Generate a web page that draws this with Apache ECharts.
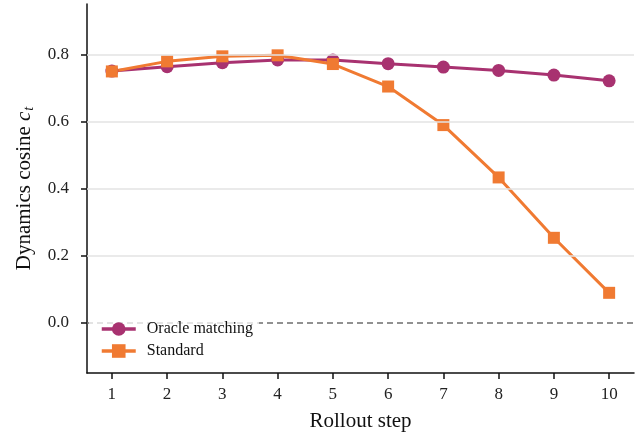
<!DOCTYPE html>
<html>
<head>
<meta charset="utf-8">
<script src="https://cdn.jsdelivr.net/npm/echarts@6/dist/echarts.min.js"></script>
<style>
html,body{margin:0;padding:0;background:#fff;}
#chart{width:635px;height:437px;}
</style>
</head>
<body>
<div id="chart"></div>
<script>
const steps = [1, 2, 3, 4, 5, 6, 7, 8, 9, 10];
const oracle = [0.750, 0.763, 0.775, 0.783, 0.783, 0.772, 0.762, 0.752, 0.738, 0.721];
const standard = [0.749, 0.779, 0.794, 0.797, 0.771, 0.704, 0.589, 0.433, 0.253, 0.089];
const yTicks = [0.0, 0.2, 0.4, 0.6, 0.8];
const gridValues = [0.2, 0.4, 0.6, 0.8];

const FONT = 'Liberation Serif';
const purple = '#a83270';
const orange = '#f07a32';

const chart = echarts.init(document.getElementById('chart'));
chart.setOption({
  animation: false,
  backgroundColor: '#fff',
  textStyle: { fontFamily: FONT, color: '#111' },
  grid: { left: 87, right: 1, top: 4, bottom: 64 },
  xAxis: {
    type: 'value', min: 0.55, max: 10.45,
    name: 'Rollout step', nameLocation: 'middle', nameGap: 38,
    nameTextStyle: { fontFamily: FONT, fontSize: 21, color: '#111' },
    axisLine: { show: true, onZero: false, lineStyle: { color: '#111', width: 1.5 } },
    axisTick: { show: true, length: 6, customValues: steps, lineStyle: { color: '#111', width: 1.5 } },
    axisLabel: { customValues: steps, margin: 13, fontFamily: FONT, fontSize: 17, color: '#222' },
    splitLine: { show: false }
  },
  yAxis: {
    type: 'value', min: -0.15, max: 0.95,
    name: 'Dynamics cosine {i|c}{s|t}', nameLocation: 'middle', nameGap: 51,
    nameTextStyle: {
      fontFamily: FONT, fontSize: 21, color: '#111',
      rich: {
        i: { fontFamily: FONT, fontSize: 21, fontStyle: 'italic', color: '#111' },
        s: { fontFamily: FONT, fontSize: 14, fontStyle: 'italic', color: '#111', verticalAlign: 'bottom', padding: [9, 0, 0, 1] }
      }
    },
    axisLine: { show: true, onZero: false, lineStyle: { color: '#111', width: 1.5 } },
    axisTick: { show: true, length: 6, customValues: yTicks, lineStyle: { color: '#111', width: 1.5 } },
    axisLabel: { customValues: yTicks, margin: 18, fontFamily: FONT, fontSize: 17, color: '#222',
      formatter: v => v.toFixed(1) },
    splitLine: { show: false }
  },
  legend: {
    orient: 'vertical', left: 89, top: 313, z: 10,
    itemWidth: 34, itemHeight: 17, itemGap: 6,
    padding: [8, 6, 8, 11],
    backgroundColor: 'rgba(255,255,255,0.75)',
    lineStyle: { width: 3.5 },
    textStyle: { fontFamily: FONT, fontSize: 16, color: '#111', padding: [0, 0, 0, 6] },
    data: ['Oracle matching', 'Standard']
  },
  series: [
    {
      type: 'line', name: 'grid', data: [], silent: true, z: 0,
      markLine: {
        silent: true, symbol: 'none', label: { show: false },
        lineStyle: { color: '#e3e3e3', width: 1.5, type: 'solid' },
        data: gridValues.map(v => ({ yAxis: v }))
      }
    },
    {
      type: 'line', name: 'zero', data: [], silent: true, z: 1,
      markLine: {
        silent: true, symbol: 'none', label: { show: false },
        lineStyle: { color: '#6e6e6e', width: 1.5, type: [6, 4] },
        data: [{ yAxis: 0 }]
      }
    },
    {
      type: 'line', name: 'Oracle matching', z: 3,
      data: steps.map((s, i) => [s, oracle[i]]),
      symbol: 'circle', symbolSize: 13,
      lineStyle: { color: purple, width: 3 },
      itemStyle: { color: purple }
    },
    {
      type: 'line', name: 'Standard', z: 3,
      data: steps.map((s, i) => [s, standard[i]]),
      symbol: 'rect', symbolSize: 12,
      lineStyle: { color: orange, width: 3 },
      itemStyle: { color: orange }
    }
  ]
});
</script>
</body>
</html>
